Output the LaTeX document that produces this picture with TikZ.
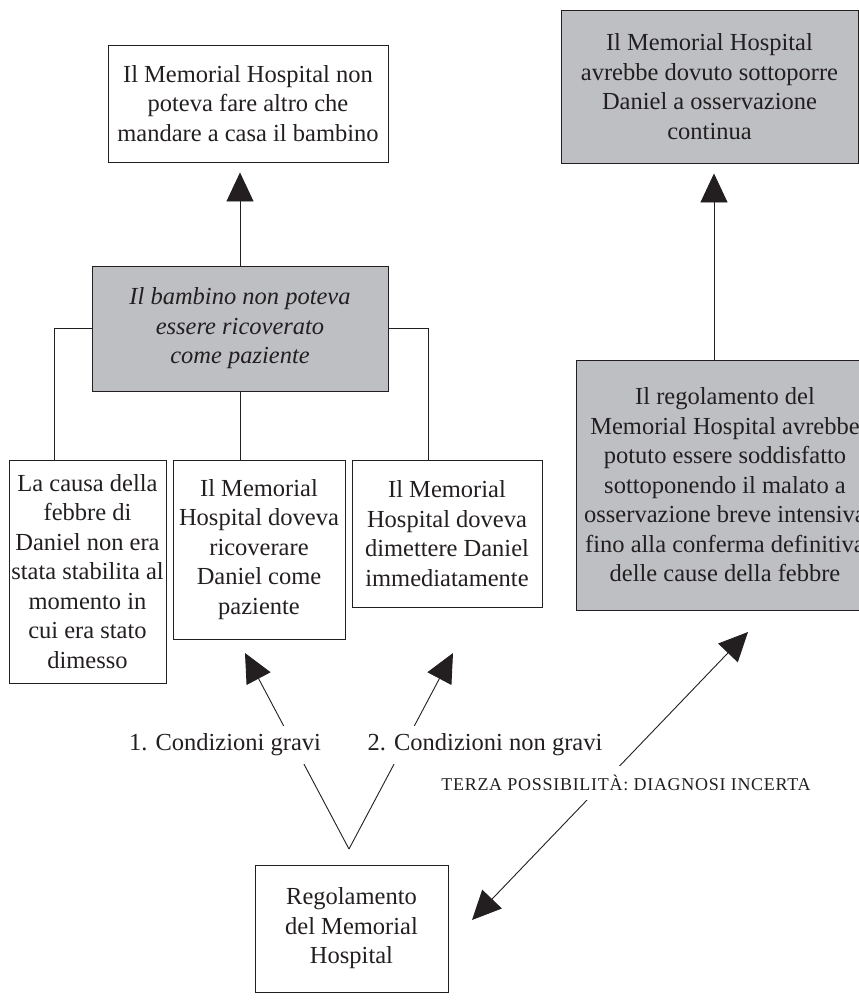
\documentclass[tikz,border=0pt]{standalone}
\usepackage{fontspec}
\setmainfont{Liberation Serif}
\usepackage{tikz}
\usetikzlibrary{arrows.meta}
\usetikzlibrary{calc}
\usetikzlibrary{positioning}
\definecolor{boxgray}{RGB}{189,191,195}
\definecolor{inkblack}{RGB}{35,31,32}
\newcommand{\boxfont}{\fontsize{24.5}{29.5}\selectfont}

\begin{document}
\begin{tikzpicture}[x=1pt,y=-1pt,
		box/.style={draw=inkblack, line width=0.9pt, align=center, inner sep=1pt, text=inkblack, font=\boxfont},
		graybox/.style={box, fill=boxgray},
		link/.style={draw=inkblack, line width=0.9pt},
		bigarrow/.style={link, -{Triangle[length=29pt,width=27pt]}},
		caselabel/.style={fill=white, inner xsep=1pt, inner ysep=8pt, text=inkblack, font=\boxfont}]
		\useasboundingbox (0,0) rectangle (859,1002);

		% caselle
		\node[box, minimum width=280pt, minimum height=117pt] (casa) at (248,103.5) {Il Memorial Hospital non\\poteva fare altro che\\mandare a casa il bambino};
		\node[graybox, minimum width=296pt, minimum height=125pt, font=\boxfont\itshape] (ricovero) at (240,328.5) {Il bambino non poteva\\essere ricoverato\\come paziente};
		\node[box, minimum width=157pt, minimum height=223pt] (causa) at (87.5,571.5) {La causa della\\febbre di\\Daniel non era\\stata stabilita al\\momento in\\cui era stato\\dimesso};
		\node[box, minimum width=172pt, minimum height=179pt] (ricoverare) at (259,549.5) {Il Memorial\\Hospital doveva\\ricoverare\\Daniel come\\paziente};
		\node[box, minimum width=190pt, minimum height=147pt] (dimettere) at (447,533.5) {Il Memorial\\Hospital doveva\\dimettere Daniel\\immediatamente};
		\node[graybox, minimum width=297pt, minimum height=153pt] (osservazione) at (709.5,86.5) {Il Memorial Hospital\\avrebbe dovuto sottoporre\\Daniel a osservazione\\continua};
		\node[graybox, minimum width=298pt, minimum height=250pt] (breve) at (725,485) {Il regolamento del\\Memorial Hospital avrebbe\\potuto essere soddisfatto\\sottoponendo il malato a\\osservazione breve intensiva\\fino alla conferma definitiva\\delle cause della febbre};
		\node[box, minimum width=193pt, minimum height=127pt] (regolamento) at (351.5,928.5) {Regolamento\\del Memorial\\Hospital};

		% albero
		\draw[bigarrow, shorten >=10pt] (ricovero.north) -- (ricovero.north |- casa.south);
		\draw[bigarrow, shorten >=10pt] ([xshift=-11pt]breve.north) -- ([xshift=-11pt]breve.north |- osservazione.south);
		\draw[link] (ricovero.west) -| ([xshift=-33.5pt]causa.north);
		\draw[link] (ricovero.east) -| ([xshift=-19pt]dimettere.north);
		\draw[link] (ricovero.south) -- (ricovero.south |- ricoverare.north);

		% terza possibilita
		\coordinate (puntaC) at (472,920);
		\coordinate (puntaD) at (748,632);
		\draw[link, {Triangle[length=29pt,width=27pt]}-{Triangle[length=29pt,width=27pt]}] (puntaC) -- (puntaD);
		\node[caselabel, inner ysep=9pt, font=\fontsize{18}{21}\selectfont\addfontfeatures{LetterSpace=4}] (terza) at (626,783) {TERZA POSSIBILITÀ: DIAGNOSI INCERTA};

		% le due condizioni
		\coordinate (vertice) at (349,849);
		\coordinate (puntaA) at (245,653);
		\coordinate (puntaB) at (453,653);
		\draw[bigarrow] (vertice) -- (puntaA);
		\draw[bigarrow] (vertice) -- (puntaB);
		\node[caselabel] (gravi) at (225,745) {1. Condizioni gravi};
		\node[caselabel] (nongravi) at (485,745) {2. Condizioni non gravi};
	\end{tikzpicture}
\end{document}
